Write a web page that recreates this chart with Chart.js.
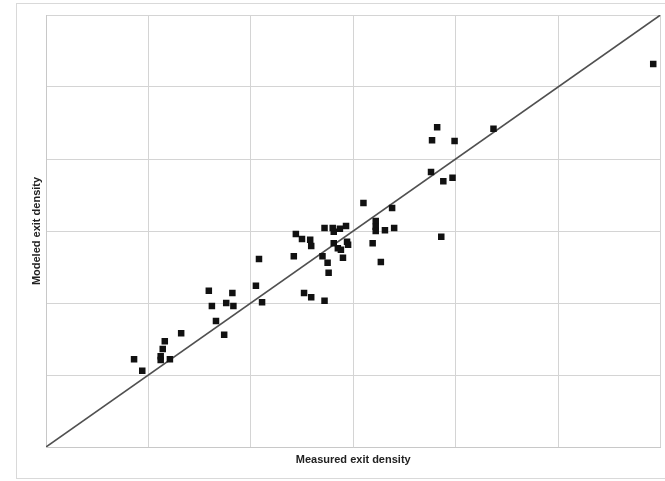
<!DOCTYPE html>
<html>
<head>
<meta charset="utf-8">
<script src="https://cdn.jsdelivr.net/npm/chart.js@4/dist/chart.umd.min.js"></script>
<style>
  html, body { margin: 0; padding: 0; background: #ffffff; }
  #wrap { position: relative; width: 665px; height: 481px; }
</style>
</head>
<body>
<div id="wrap"><canvas id="c" width="665" height="481"></canvas></div>
<script>
// Measured exit density (x) and modeled exit density (y)
const measured = [0.86,0.94,1.12,1.12,1.14,1.16,1.21,1.32,1.59,1.62,1.66,1.74,1.76,1.82,1.83,2.05,2.08,2.11,
  2.42,2.44,2.50,2.52,2.58,2.59,2.59,2.70,2.72,2.72,2.75,2.76,2.80,2.81,2.81,2.85,2.87,2.88,2.90,2.93,2.94,2.95,
  3.10,3.19,3.22,3.22,3.22,3.27,3.31,3.38,3.40,3.76,3.77,3.82,3.86,3.88,3.97,3.99,4.37,5.93];
const modeled = [1.22,1.06,1.21,1.26,1.36,1.47,1.22,1.58,2.17,1.96,1.75,1.56,2.00,2.14,1.96,2.24,2.61,2.01,
  2.65,2.96,2.89,2.14,2.88,2.79,2.08,2.65,3.04,2.03,2.56,2.42,3.04,2.99,2.83,2.76,3.03,2.74,2.63,3.07,2.85,2.81,
  3.39,2.83,3.14,3.06,3.00,2.57,3.01,3.32,3.04,3.82,4.26,4.44,2.92,3.69,3.74,4.25,4.42,5.32];
// Reference line y = x
const lineX = [0, 6];
const lineY = [0, 6];
const xTitle = "Measured exit density";
const yTitle = "Modeled exit density";

const pts = measured.map((v, i) => ({ x: v, y: modeled[i] }));
const linePts = lineX.map((v, i) => ({ x: v, y: lineY[i] }));

const frame = {
  id: 'frame',
  beforeDraw(chart) {
    const ctx = chart.ctx;
    ctx.save();
    ctx.fillStyle = '#ffffff';
    ctx.fillRect(0, 0, chart.width, chart.height);
    ctx.strokeStyle = '#d9d9d9';
    ctx.lineWidth = 1;
    ctx.strokeRect(16.5, 3.5, 670, 475);
    ctx.restore();
  }
};

new Chart(document.getElementById('c'), {
  type: 'scatter',
  data: {
    datasets: [
      {
        data: pts,
        pointStyle: 'rect',
        pointRadius: 4.6,
        pointHoverRadius: 4.6,
        backgroundColor: '#111111',
        borderWidth: 0
      },
      {
        data: linePts,
        showLine: true,
        pointRadius: 0,
        borderColor: '#505050',
        borderWidth: 1.6
      }
    ]
  },
  options: {
    responsive: false,
    animation: false,
    events: [],
    layout: { padding: { left: 0, top: 15, right: 3, bottom: 0 } },
    plugins: { legend: { display: false }, tooltip: { enabled: false } },
    scales: {
      x: {
        type: 'linear', min: 0, max: 6,
        ticks: { display: false, stepSize: 1 },
        grid: { color: '#d4d4d4', lineWidth: 1, drawTicks: false },
        border: { color: '#c8c8c8' },
        title: { display: true, text: xTitle, color: '#222', font: { family: 'Liberation Sans', size: 11, weight: 'bold' }, padding: { top: 0, bottom: 14 } },
        afterFit(s) { s.height = 34; }
      },
      y: {
        type: 'linear', min: 0, max: 6,
        ticks: { display: false, stepSize: 1 },
        grid: { color: '#d4d4d4', lineWidth: 1, drawTicks: false },
        border: { color: '#c8c8c8' },
        title: { display: true, text: yTitle, color: '#222', font: { family: 'Liberation Sans', size: 11, weight: 'bold' }, padding: { top: 30, bottom: 0 } },
        afterFit(s) { s.width = 46; }
      }
    }
  },
  plugins: [frame]
});
</script>
</body>
</html>
